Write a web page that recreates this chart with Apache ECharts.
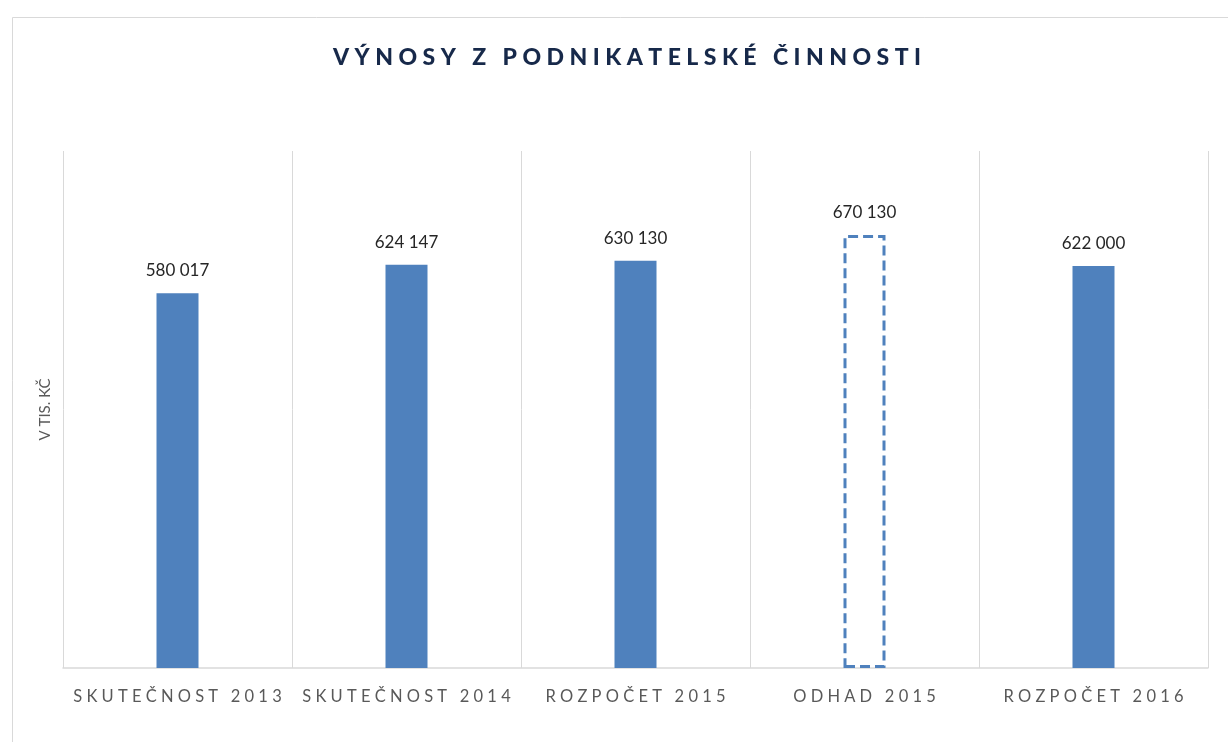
<!DOCTYPE html>
<html><head><meta charset="utf-8">
<script src="https://cdn.jsdelivr.net/npm/echarts@6/dist/echarts.min.js"></script>
<style>html,body{margin:0;padding:0;background:#fff}#c{width:1228px;height:742px}</style>
</head><body><div id="c"></div>
<script>
const titleText = 'VÝNOSY Z PODNIKATELSKÉ ČINNOSTI';
const yAxisName = 'V TIS. KČ';
const categories = ['SKUTEČNOST 2013', 'SKUTEČNOST 2014', 'ROZPOČET 2015', 'ODHAD 2015', 'ROZPOČET 2016'];
const values = [580017, 624147, 630130, 670130, 622000];
const estimateFlags = [false, false, false, true, false];

function spaced(s, gap) {
  return s.split(' ').map(w => w.split('').join(gap)).join(gap + gap + gap);
}
function fmt(v) {
  return String(v).replace(/\B(?=(\d{3})+(?!\d))/g, ' ');
}

const chart = echarts.init(document.getElementById('c'), null, {renderer: 'canvas'});
const blue = '#4F81BD';
chart.setOption({
  backgroundColor: '#fff',
  animation: false,
  graphic: [{
    type: 'rect', left: 10, top: 15, silent: true,
    shape: {width: 1240, height: 760},
    style: {fill: 'none', stroke: '#D9D9D9', lineWidth: 1}
  }],
  title: {
    text: spaced(titleText, ' '),
    left: 328, top: 41,
    textStyle: {fontFamily: 'Lato', fontWeight: 900, fontSize: 23, color: '#17294A'}
  },
  grid: {left: 63, right: 20, top: 151, bottom: 74},
  xAxis: {
    type: 'category', data: categories,
    axisLine: {show: true, lineStyle: {color: '#D9D9D9', width: 1.5}},
    axisTick: {show: false},
    splitLine: {show: true, interval: 0, lineStyle: {color: '#D9D9D9', width: 1}},
    axisLabel: {
      interval: 0, margin: 20, color: '#595959', fontFamily: 'Lato', fontSize: 16.5,
      formatter: v => spaced(v, ' ')
    }
  },
  yAxis: {
    type: 'value', min: 0, max: 800000,
    name: yAxisName, nameLocation: 'middle', nameGap: 10,
    nameTextStyle: {color: '#595959', fontFamily: 'Lato', fontSize: 15},
    axisLine: {show: false}, axisTick: {show: false}, axisLabel: {show: false},
    splitLine: {show: false}
  },
  series: [{
    type: 'bar', barWidth: 42,
    data: values.map((v, i) => estimateFlags[i] ? {
      value: v,
      itemStyle: {color: 'rgba(255,255,255,0)', borderColor: blue, borderWidth: 3, borderType: [10, 5]}
    } : {value: v}),
    itemStyle: {color: blue},
    label: {
      show: true, position: 'top', distance: 14,
      color: '#262626', fontFamily: 'Lato', fontSize: 17,
      formatter: p => fmt(p.value)
    }
  }]
});
</script></body></html>
